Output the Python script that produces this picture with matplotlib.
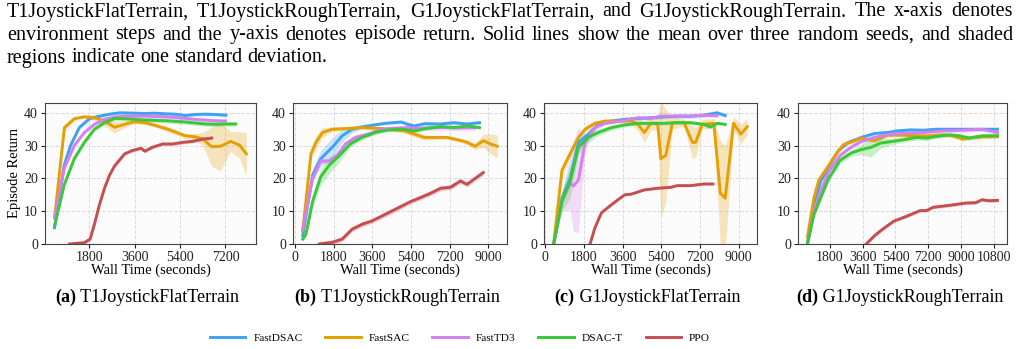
import numpy as np
import matplotlib
matplotlib.use("Agg")
import matplotlib.pyplot as plt

plt.rcParams['font.family'] = ['Liberation Serif', 'DejaVu Serif']

# algorithms and colours
algos = ['FastDSAC', 'FastSAC', 'FastTD3', 'DSAC-T', 'PPO']
colors = ['#3ea2f2', '#e69f00', '#d57ff0', '#38c838', '#c44e52']

# ---- (a) T1JoystickFlatTerrain ----
a_t_dsac = [420, 800, 1050, 1400, 1800, 2200, 2600, 3000, 3600, 4000, 4400, 4800, 5200, 5600, 6000, 6400, 6800, 7220]
a_dsac = [5.0, 24, 30, 35.5, 38.2, 39, 39.6, 40, 39.9, 39.8, 39.9, 39.7, 39.6, 39.2, 39.5, 39.6, 39.5, 39.3]
a_t_sac = [420, 810, 1200, 1600, 2000, 2400, 2800, 3200, 3600, 4000, 4400, 4800, 5200, 5600, 6000, 6300, 6650, 7000, 7400, 7750, 8030]
a_sac = [8, 35.5, 38.2, 38.8, 38.5, 37.5, 35.6, 36.5, 37.3, 37, 36.2, 35.3, 34.2, 33, 32.7, 32, 29.7, 29.8, 31.3, 30.2, 27.5]
a_sac_sd = [0.5, 1, 0.6, 0.5, 0.8, 1.5, 1.8, 1, 0.6, 0.6, 0.6, 0.8, 0.8, 0.8, 1, 2, 6, 7.5, 3, 4, 6.5]
a_t_td3 = [420, 800, 1200, 1600, 2000, 2400, 2800, 3200, 3600, 4000, 4400, 4800, 5200, 5600, 6000, 6400, 6800, 7200]
a_td3 = [8, 23, 30, 34, 36.5, 38, 38.7, 39, 39, 39, 38.9, 38.8, 38.6, 38.3, 38, 37.8, 37.6, 37.5]
a_t_dsact = [420, 800, 1200, 1600, 2000, 2400, 2800, 3200, 3600, 4000, 4400, 4800, 5200, 5600, 6000, 6400, 6800, 7200, 7600]
a_dsact = [5.5, 18, 26, 31, 35, 37, 38.3, 38.2, 38, 37.8, 37.7, 37.6, 37.4, 37.2, 36.9, 36.6, 36.5, 36.6, 36.6]
a_t_ppo = [1010, 1300, 1600, 1830, 2000, 2200, 2400, 2600, 2800, 3200, 3500, 3850, 4000, 4300, 4700, 5100, 5500, 5900, 6300, 6650]
a_ppo = [0, 0.2, 0.4, 1.5, 6, 12, 17, 21, 23.8, 27.5, 28.5, 29.2, 28.3, 29.5, 30.5, 30.5, 31, 31.3, 32, 32.3]

# ---- (b) T1JoystickRoughTerrain ----
b_t_dsac = [350, 810, 1190, 1730, 2190, 2650, 3110, 3570, 4180, 4950, 5250, 5560, 6020, 6780, 7400, 8000, 8590]
b_dsac = [2.5, 21, 26, 29.5, 33, 35, 35.7, 36.2, 36.8, 37.2, 36.5, 36, 36.7, 36.6, 37, 36.6, 37]
b_dsac_sd = [0.5, 2, 2.5, 3, 2, 1, 0.6, 0.5, 0.5, 0.5, 0.5, 0.5, 0.5, 0.5, 0.5, 0.5, 0.5]
b_t_sac = [350, 735, 965, 1270, 1730, 2340, 3110, 4030, 4640, 5100, 5560, 6020, 6630, 7090, 7700, 8010, 8390, 8770, 9110, 9420]
b_sac = [4, 27.5, 31, 34, 35, 35.2, 35.5, 35.2, 34.8, 34.5, 33.5, 32.5, 32.5, 32.5, 31.6, 31, 29.8, 31.5, 30.5, 29.8]
b_sac_sd = [1, 1.5, 2, 1.5, 0.8, 0.5, 0.5, 0.5, 0.6, 0.8, 1, 0.8, 0.6, 0.6, 0.6, 0.8, 1, 2, 3, 3.5]
b_t_td3 = [350, 810, 1190, 1580, 1960, 2340, 2800, 3410, 4030, 4640, 5250, 5860, 6480, 7090, 7700, 8390]
b_td3 = [4.5, 20, 25.3, 25.3, 27, 30.5, 32.5, 33.5, 35, 35.3, 35.5, 35.3, 35.5, 35.5, 35.4, 35.5]
b_t_dsact = [350, 500, 810, 1190, 1580, 2040, 2570, 3110, 3720, 4330, 4950, 5560, 6170, 6780, 7400, 8010, 8590]
b_dsact = [1.5, 3, 13, 20.5, 24, 26.8, 30.5, 32.5, 34, 34.8, 35, 34.5, 35.3, 35.8, 35.5, 36, 35.5]
b_dsact_sd = [0.5, 1, 2, 2.5, 2.5, 2, 1, 0.8, 0.6, 0.5, 0.5, 0.5, 0.5, 0.5, 0.5, 0.5, 0.5]
b_t_ppo = [1120, 1730, 2190, 2650, 3110, 3570, 4030, 4490, 4950, 5400, 5860, 6320, 6780, 7240, 7700, 8010, 8390, 8770]
b_ppo = [0, 0.5, 1.5, 4.5, 6, 7, 8.5, 10, 11.5, 13, 14.2, 15.5, 17, 17.3, 19.2, 18.2, 20, 21.8]

# ---- (c) G1JoystickFlatTerrain ----
c_t_dsac = [385, 770, 1150, 1540, 2000, 2460, 3080, 3690, 4310, 4920, 5540, 6150, 6770, 7380, 8000, 8380]
c_dsac = [0, 14, 20, 31, 33.5, 36.5, 37.5, 38, 38.3, 38.5, 38.8, 39, 39, 39.3, 40, 39.2]
c_t_sac = [385, 770, 1150, 1540, 1850, 2310, 2770, 3380, 4000, 4310, 4610, 4920, 5230, 5380, 5610, 5920, 6460, 6850, 7000, 7310, 7850, 8150, 8380, 8770, 9110, 9410]
c_sac = [0, 22.5, 27.5, 32.5, 35, 36.8, 37.5, 37.5, 37.5, 36.5, 34, 36.8, 36.8, 26, 27, 37, 37, 31, 31, 36.5, 36.8, 15.5, 14, 36.8, 33.5, 35.8]
c_sac_sd = [0.5, 1.5, 1.5, 1, 1, 0.7, 0.5, 0.5, 1, 2, 3, 2, 2, 18, 14, 2, 1, 5, 4.5, 1.5, 1.5, 16, 16, 2, 3, 2.5]
c_t_td3 = [385, 770, 1150, 1310, 1540, 1850, 2310, 2770, 3540, 4310, 4920, 5380, 6150, 6770, 7380, 8000]
c_td3 = [0, 13, 18.5, 17.7, 19.5, 31, 35.5, 36.8, 37.5, 38.5, 38.3, 39, 39, 39, 39.3, 39.1]
c_td3_sd = [0.5, 3, 8, 14, 16, 2, 1, 0.5, 0.5, 0.5, 0.5, 0.5, 0.5, 0.5, 0.5, 0.5]
c_t_dsact = [385, 770, 1150, 1540, 2000, 2460, 3080, 3690, 4310, 4920, 5540, 6150, 6770, 7380, 7690, 8000, 8380]
c_dsact = [0, 13, 19, 29.5, 32.5, 34, 35.5, 36.3, 36.8, 36.8, 36.8, 37, 37, 36.5, 35.7, 36.8, 36.5]
c_dsact_sd = [0.5, 3, 5, 2, 1.5, 1, 0.8, 0.6, 0.5, 0.5, 0.5, 0.5, 0.5, 0.5, 0.5, 0.5, 0.5]
c_t_ppo = [2080, 2310, 2610, 3080, 3690, 4000, 4610, 5230, 5850, 6150, 6770, 7380, 7810]
c_ppo = [0, 5, 9.5, 12, 15, 15.2, 16.5, 17, 17.3, 17.8, 17.8, 18.3, 18.3]

# ---- (d) G1JoystickRoughTerrain ----
d_t_dsac = [590, 940, 1300, 1750, 2280, 2820, 3530, 4250, 4960, 5500, 6210, 6930, 7640, 8360, 9070, 9780, 10500, 10980]
d_dsac = [0.5, 12, 19, 23.5, 28.5, 31, 32.5, 33.7, 34, 34.5, 34.8, 34.7, 35, 35, 35, 35, 35, 35]
d_t_sac = [590, 940, 1210, 1750, 2100, 2550, 3180, 3530, 4250, 4960, 5680, 6570, 7280, 8000, 8530, 9070, 9610, 10320, 10980]
d_sac = [2.2, 14, 19.5, 24, 27, 30.3, 31.5, 32.3, 31.5, 33.2, 33.2, 33, 33, 33.3, 33, 32, 32.5, 32.7, 32.8]
d_t_td3 = [590, 940, 1300, 1750, 2370, 2910, 3530, 4250, 5140, 6030, 6930, 8000, 9070, 10140, 10980]
d_td3 = [0, 10, 16, 22, 27, 29.3, 31.3, 32.5, 33.5, 33.8, 34, 34.5, 34.7, 35, 34]
d_t_dsact = [590, 940, 1300, 1750, 2370, 3000, 3530, 4070, 4600, 5140, 5850, 6570, 7100, 7640, 8360, 8890, 9430, 10140, 10980]
d_dsact = [0, 9, 14, 20, 25.5, 27.8, 28.8, 29.5, 30.8, 31.2, 31.8, 32.5, 32.3, 32.8, 33.3, 33, 32.3, 33, 33]
d_dsact_sd = [0.5, 1, 1, 1, 1, 1, 1.5, 3, 1.5, 1, 0.8, 0.8, 0.8, 0.6, 0.6, 0.6, 0.6, 0.6, 0.6]
d_t_ppo = [3800, 4250, 4690, 5320, 6030, 6750, 7100, 7460, 8360, 9250, 9780, 10140, 10500, 10980]
d_ppo = [0, 2.5, 4.5, 7, 8.5, 10.2, 10.2, 11.2, 11.8, 12.5, 12.6, 13.5, 13.2, 13.3]

titles = ['T1JoystickFlatTerrain', 'T1JoystickRoughTerrain', 'G1JoystickFlatTerrain', 'G1JoystickRoughTerrain']
tags = ['(a)', '(b)', '(c)', '(d)']
xticks = [[1800, 3600, 5400, 7200],
          [0, 1800, 3600, 5400, 7200, 9000],
          [0, 1800, 3600, 5400, 7200, 9000],
          [1800, 3600, 5400, 7200, 9000, 10800]]

caption = ["T1JoystickFlatTerrain, T1JoystickRoughTerrain, G1JoystickFlatTerrain, and G1JoystickRoughTerrain. The x-axis denotes",
           "environment steps and the y-axis denotes episode return. Solid lines show the mean over three random seeds, and shaded",
           "regions indicate one standard deviation."]

panels = [
    [(a_t_dsac, a_dsac, 0.5), (a_t_sac, a_sac, a_sac_sd), (a_t_td3, a_td3, 0.6), (a_t_dsact, a_dsact, 0.7), (a_t_ppo, a_ppo, 0.5)],
    [(b_t_dsac, b_dsac, b_dsac_sd), (b_t_sac, b_sac, b_sac_sd), (b_t_td3, b_td3, 0.8), (b_t_dsact, b_dsact, b_dsact_sd), (b_t_ppo, b_ppo, 0.8)],
    [(c_t_dsac, c_dsac, 0.6), (c_t_sac, c_sac, c_sac_sd), (c_t_td3, c_td3, c_td3_sd), (c_t_dsact, c_dsact, c_dsact_sd), (c_t_ppo, c_ppo, 0.3)],
    [(d_t_dsac, d_dsac, 0.5), (d_t_sac, d_sac, 0.6), (d_t_td3, d_td3, 0.6), (d_t_dsact, d_dsact, d_dsact_sd), (d_t_ppo, d_ppo, 0.5)],
]

W, H = 1020, 349
fig = plt.figure(figsize=(W / 100, H / 100), dpi=100)

# axes boxes in pixels (left, right)
boxes = [(45, 256), (293, 507), (544, 757), (798, 1007)]
ax_top, ax_bot = 103, 244

handles = []
for i, (l, r) in enumerate(boxes):
    ax = fig.add_axes([l / W, (H - ax_bot) / H, (r - l) / W, (ax_bot - ax_top) / H])
    ax.set_facecolor('#fbfbfb')
    for j, (t, m, sd) in enumerate(panels[i]):
        t = np.array(t, float)
        m = np.array(m, float)
        sd = np.broadcast_to(np.array(sd, float), m.shape)
        ax.fill_between(t, m - sd, m + sd, color=colors[j], alpha=0.25, lw=0)
        ln, = ax.plot(t, m, color=colors[j], lw=2.1, label=algos[j])
        if i == 0:
            handles.append(ln)
    ax.set_ylim(0, 43)
    ax.set_yticks([0, 10, 20, 30, 40])
    ax.set_xticks(xticks[i])
    ax.grid(True, color='#dcdcdc', ls='--', lw=0.7)
    ax.set_axisbelow(True)
    for s in ax.spines.values():
        s.set_color('#444444')
        s.set_linewidth(0.8)
    ax.tick_params(labelsize=10, length=3, width=0.8, colors='#222222', pad=2)
    ax.set_xlabel('Wall Time (seconds)', fontsize=10.5, labelpad=0)
    if i == 0:
        ax.set_ylabel('Episode Return', fontsize=10.5, labelpad=2)

fig.legend(handles=handles, loc='center', bbox_to_anchor=(460 / W, 11 / H), ncol=5,
           frameon=False, fontsize=8.2, handlelength=3.1, handletextpad=0.7, columnspacing=2.0)

renderer = fig.canvas.get_renderer()

# subcaptions: bold tag + normal title, centred under each axes
for i, (l, r) in enumerate(boxes):
    y = (H - 297) / H
    t1 = fig.text(0, y, tags[i], fontsize=13, fontweight='bold', va='center')
    t2 = fig.text(0, y, ' ' + titles[i], fontsize=13, va='center')
    w1 = t1.get_window_extent(renderer).width
    w2 = t2.get_window_extent(renderer).width
    x0 = (l + r) / 2 - (w1 + w2) / 2 - 3
    t1.set_x(x0 / W)
    t2.set_x((x0 + w1) / W)

# caption on top, justified like the paper text
ys = [12, 35, 58]
for k, line in enumerate(caption):
    words = line.split()
    objs = [fig.text(0, (H - ys[k]) / H, w, fontsize=14.5, va='center') for w in words]
    widths = [o.get_window_extent(renderer).width for o in objs]
    if k < 2:
        gap = (1013 - 7 - sum(widths)) / (len(words) - 1)
    else:
        gap = objs[0].get_fontsize() * 100 / 72 * 0.25
    x = 7
    for o, w in zip(objs, widths):
        o.set_x(x / W)
        x += w + gap

fig.savefig('out.png', dpi=100)
